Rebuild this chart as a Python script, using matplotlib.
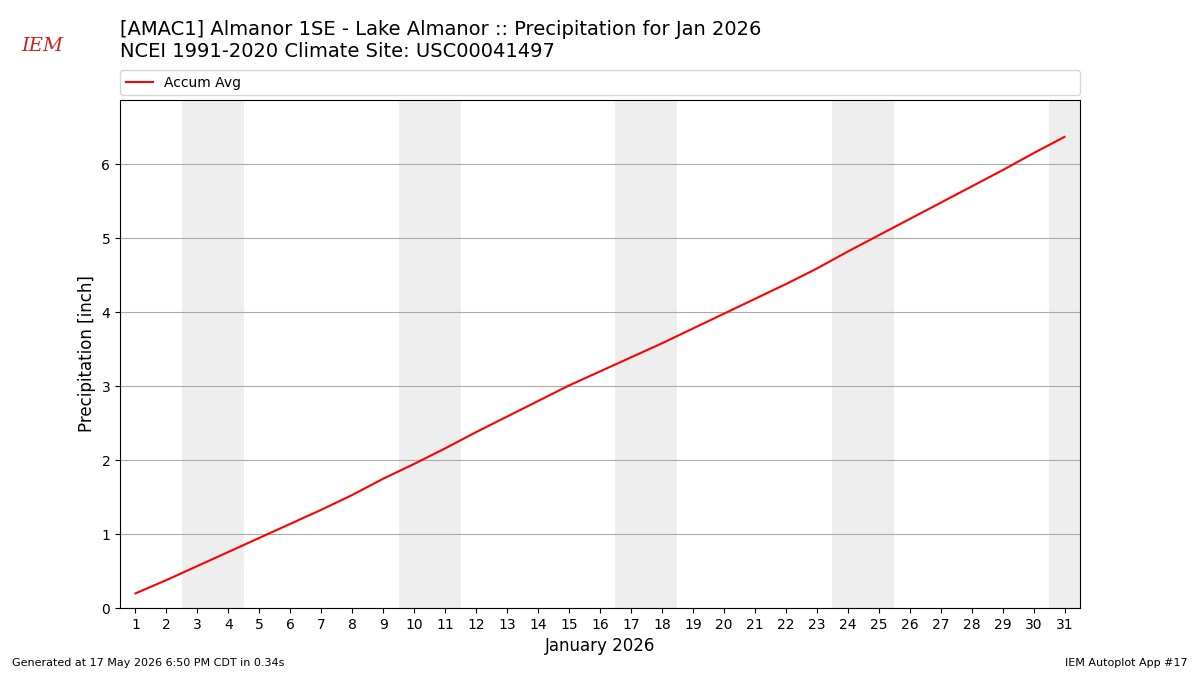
import matplotlib
matplotlib.use("Agg")
import matplotlib.pyplot as plt

days = list(range(1, 32))
accum = [0.20, 0.38, 0.57, 0.76, 0.95, 1.14, 1.33, 1.53, 1.75, 1.95, 2.16, 2.38, 2.59, 2.80, 3.01,
         3.20, 3.39, 3.58, 3.78, 3.98, 4.18, 4.38, 4.59, 4.82, 5.04, 5.26, 5.48, 5.70, 5.92, 6.15, 6.37]
weekends = [3, 4, 10, 11, 17, 18, 24, 25, 31]

fig = plt.figure(figsize=(12, 6.75), dpi=100)
ax = fig.add_axes([0.1, 0.099, 0.8, 0.753])
for d in weekends:
    ax.axvspan(d - 0.5, d + 0.5, color="#eeeeee", zorder=0, lw=0)
line, = ax.plot(days, accum, color="red", label="Accum Avg", zorder=3)
ax.set_xlim(0.5, 31.5)
ax.set_ylim(0, 6.87)
ax.set_xticks(days)
ax.set_yticks(range(0, 7))
ax.grid(axis="y", color="#aaaaaa", lw=0.8)
ax.set_axisbelow(True)
ax.set_xlabel("January 2026", fontsize=12)
ax.set_ylabel("Precipitation [inch]", fontsize=12)
fig.legend(handles=[line], loc="lower left", bbox_to_anchor=(0.1, 0.859, 0.8, 0.037),
           mode="expand", fontsize=10, frameon=True, borderaxespad=0)
fig.text(0.1, 0.94, "[AMAC1] Almanor 1SE - Lake Almanor :: Precipitation for Jan 2026\nNCEI 1991-2020 Climate Site: USC00041497",
         fontsize=14, va="center", ha="left")
fig.text(0.018, 0.925, "IEM", color="#cc2222", fontsize=14, style="italic", family="serif")
fig.text(0.01, 0.013, "Generated at 17 May 2026 6:50 PM CDT in 0.34s", fontsize=8)
fig.text(0.99, 0.013, "IEM Autoplot App #17", fontsize=8, ha="right")
fig.savefig("out.png", dpi=100)
